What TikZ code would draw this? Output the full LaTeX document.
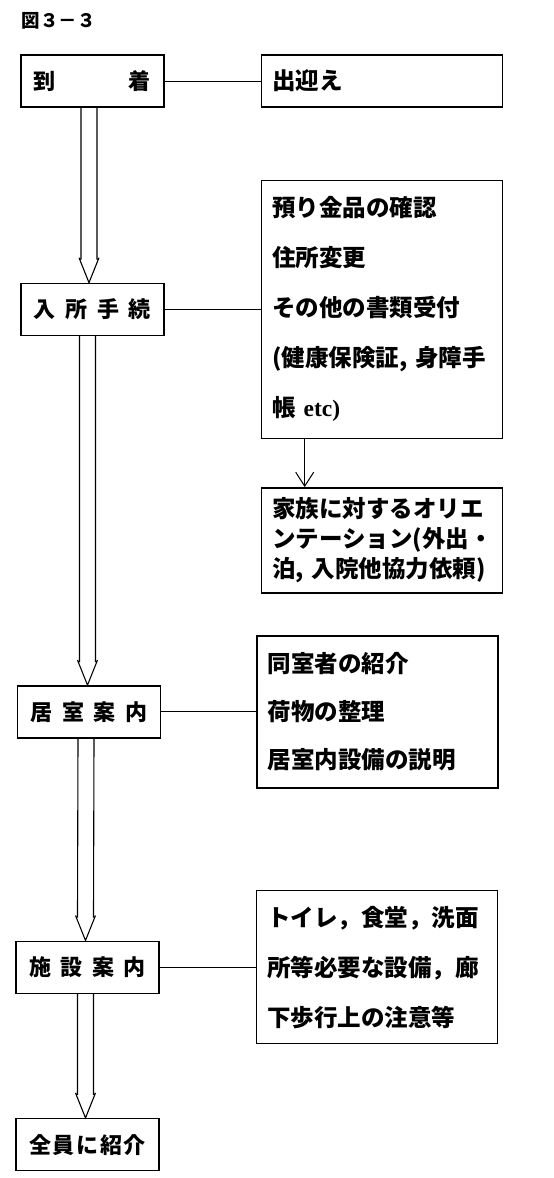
\documentclass[tikz,border=0pt]{standalone}
\usepackage{fontspec}
\setmainfont{Liberation Serif}
\newfontfamily\jp{Noto Sans CJK JP}
\usetikzlibrary{arrows.meta,calc,positioning}

\begin{document}
\begin{tikzpicture}[
x=1pt, y=-1pt,
stepbox/.style={rectangle, draw, line width=1.4pt, minimum width=143pt, minimum height=52pt, inner sep=0pt, font=\jp\bfseries\fontsize{22}{22}\selectfont},
notebox/.style={rectangle, draw, line width=1.4pt, text width=219pt, inner xsep=11pt, inner ysep=0pt, align=left, font=\jp\bfseries\fontsize{23.5}{50}\selectfont},
link/.style={line width=1pt},
dblarrow/.style={line width=1.1pt, to path={
  ($(\tikztostart)+(-8pt,0pt)$) -- ($(\tikztotarget)+(-8pt,23pt)$)
  ($(\tikztostart)+(8pt,0pt)$) -- ($(\tikztotarget)+(8pt,23pt)$)
  ($(\tikztotarget)+(-10pt,25pt)$) -- (\tikztotarget) -- ($(\tikztotarget)+(10pt,25pt)$)}},
]
\useasboundingbox (0,0) rectangle (554,1178);

%Nodes
\node[anchor=west, font=\jp\bfseries\fontsize{18.5}{18.5}\selectfont] (title) at (18,21) {図３－３};
\node[stepbox] (arrive) at (92.5,81) {\makebox[117pt][s]{到\hfill 着}};
\node[stepbox] (admit) [below=175pt of arrive] {\makebox[117pt][s]{入\hfill 所\hfill 手\hfill 続}};
\node[stepbox] (room) [below=349pt of admit, xshift=-3.5pt] {\makebox[117pt][s]{居\hfill 室\hfill 案\hfill 内}};
\node[stepbox] (facility) [below=202pt of room, xshift=-1.5pt] {\makebox[117pt][s]{施\hfill 設\hfill 案\hfill 内}};
\node[stepbox] (everyone) [below=124pt of facility] {\makebox[117pt][s]{全\hfill 員\hfill に\hfill 紹\hfill 介}};

\node[notebox, minimum height=52pt] (meet) [right=96pt of arrive] {出迎え};
\node[notebox, minimum height=258pt] (docs) [right=96pt of admit] {預り金品の確認\\住所変更\\その他の書類受付\\(健康保険証, 身障手\\帳 {\rmfamily etc)}};
\node[notebox, minimum height=105pt, font=\jp\bfseries\fontsize{23.5}{30}\selectfont] (family) [below=48pt of docs] {家族に対するオリエ\\ンテーション(外出・\\泊, 入院他協力依頼)};
\node[notebox, minimum height=152pt, font=\jp\bfseries\fontsize{23.5}{48}\selectfont] (roomnote) [right=95pt of room] {同室者の紹介\\荷物の整理\\居室内設備の説明};
\node[notebox, minimum height=153pt] (tournote) [right=96pt of facility] {トイレ，食堂，洗面\\所等必要な設備，廊\\下歩行上の注意等};
\coordinate (drop) at ([xshift=44pt]docs.south west);

%Lines
\draw[link] (arrive.east) -- (meet.west);
\draw[link] (admit.east) -- (docs.west);
\draw[link] (room.east) -- (roomnote.west);
\draw[link] (facility.east) -- (tournote.west);
\draw[link, -{Straight Barb[length=14pt, width=18pt]}] (drop) -- (drop |- family.north);

%Arrows
\draw[dblarrow] ([xshift=-3.5pt]arrive.south) to ([xshift=-3.5pt]admit.north);
\draw[dblarrow] ([xshift=-5pt]admit.south) to ([xshift=-1.5pt]room.north);
\draw[dblarrow] ([xshift=-3pt]room.south) to ([xshift=-2pt]facility.north);
\draw[dblarrow] ([xshift=-2pt]facility.south) to ([xshift=-2pt]everyone.north);
\end{tikzpicture}
\end{document}
